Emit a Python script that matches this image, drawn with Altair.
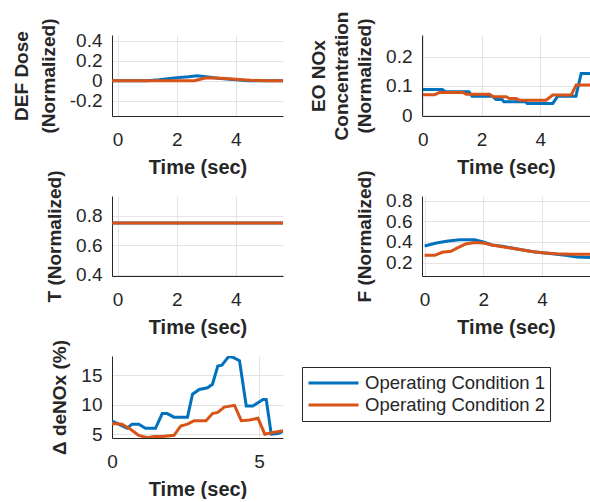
import altair as alt
import pandas as pd

FONT = "Liberation Sans"
series = ["Operating Condition 1", "Operating Condition 2"]
colors = ["#0072BD", "#D95319"]

# DEF Dose (Normalized)
def_t1 = [-0.18, 1.0, 1.4, 2.0, 2.4, 2.7, 3.0, 3.4, 4.0, 4.4, 5.6]
def_v1 = [0, 0, 0.01, 0.03, 0.04, 0.05, 0.04, 0.025, 0.01, 0, 0]
def_t2 = [-0.18, 2.6, 3.0, 3.5, 4.0, 4.5, 5.0, 5.6]
def_v2 = [0, 0, 0.03, 0.025, 0.015, 0.005, 0, 0]

# EO NOx Concentration (Normalized)
eo_t1 = [0, 0.66, 0.77, 1.57, 1.68, 2.36, 2.5, 2.7, 2.76, 3.5, 3.56, 4.43, 4.6, 5.22, 5.4, 5.7]
eo_v1 = [0.088, 0.088, 0.08, 0.08, 0.065, 0.065, 0.054, 0.054, 0.046, 0.046, 0.04, 0.04, 0.065, 0.065, 0.143, 0.143]
eo_t2 = [0, 0.4, 0.57, 1.36, 1.48, 2.27, 2.39, 2.84, 2.95, 3.18, 3.3, 4.2, 4.43, 5.06, 5.23, 5.7]
eo_v2 = [0.07, 0.07, 0.078, 0.078, 0.072, 0.072, 0.063, 0.063, 0.057, 0.057, 0.051, 0.051, 0.069, 0.069, 0.103, 0.103]

# T (Normalized)
t_t1 = [-0.18, 5.6]
t_v1 = [0.75, 0.75]
t_t2 = [-0.18, 5.6]
t_v2 = [0.75, 0.75]

# F (Normalized)
f_t1 = [0, 0.4, 0.8, 1.2, 1.7, 2.0, 2.3, 2.7, 3.2, 3.7, 4.2, 4.8, 5.2, 5.64]
f_v1 = [0.36, 0.39, 0.41, 0.42, 0.42, 0.40, 0.37, 0.355, 0.33, 0.305, 0.29, 0.27, 0.255, 0.25]
f_t2 = [0, 0.35, 0.6, 0.9, 1.1, 1.4, 1.7, 2.0, 2.3, 2.6, 3.2, 3.6, 4.0, 4.5, 5.0, 5.64]
f_v2 = [0.27, 0.27, 0.30, 0.31, 0.34, 0.38, 0.395, 0.39, 0.37, 0.355, 0.33, 0.31, 0.295, 0.285, 0.28, 0.28]

# delta deNOx (%)
dn_t1 = [0, 0.23, 0.51, 0.68, 0.91, 1.14, 1.48, 1.71, 1.88, 2.11, 2.34, 2.57, 2.74, 2.97, 3.25, 3.42,
         3.6, 3.74, 3.97, 4.11, 4.34, 4.57, 4.79, 5.14, 5.25, 5.42, 5.65, 5.82]
dn_v1 = [7.2, 6.7, 6.0, 6.7, 6.7, 6.0, 6.0, 8.5, 8.5, 7.9, 7.9, 7.9, 11.8, 12.6, 12.9, 13.5,
         16.6, 16.75, 18.2, 18.1, 17.5, 9.8, 9.8, 10.9, 10.9, 5.0, 5.1, 5.5]
dn_t2 = [0, 0.34, 0.63, 0.91, 1.2, 1.43, 1.71, 2.11, 2.34, 2.57, 2.8, 3.2, 3.42, 3.6, 3.82, 4.17,
         4.4, 4.68, 4.97, 5.2, 5.48, 5.82]
dn_v2 = [6.8, 6.7, 5.85, 4.8, 4.4, 4.6, 4.6, 4.8, 6.4, 6.7, 7.3, 7.3, 8.5, 8.7, 9.6, 9.9,
         7.3, 7.4, 7.7, 5.0, 5.3, 5.6]


def frame(t1, v1, t2, v2):
    a = pd.DataFrame({"t": t1, "v": v1, "s": series[0]})
    b = pd.DataFrame({"t": t2, "v": v2, "s": series[1]})
    return pd.concat([a, b], ignore_index=True)


color = alt.Color(
    "s:N",
    scale=alt.Scale(domain=series, range=colors),
    title=None,
    legend=alt.Legend(
        orient="none", legendX=190, legendY=332,
        strokeColor="#262626", fillColor="white", padding=5,
        symbolType="stroke", symbolSize=2500, symbolStrokeWidth=3,
        labelFontSize=18.5, labelFont=FONT, labelColor="#262626", labelLimit=400,
        clipHeight=22, rowPadding=0, labelOffset=5, cornerRadius=0,
    ),
)

LABEL_EXPR = "replace(datum.label, '\u2212', '-')"


def panel(df, xdom, xticks, ydom, yticks, ytitle, w, h, line_h=23):
    return alt.Chart(df).mark_line(strokeWidth=3, clip=True).encode(
        x=alt.X("t:Q", scale=alt.Scale(domain=xdom, nice=False, zero=False),
                axis=alt.Axis(values=xticks, title="Time (sec)", format=".2~f", labelExpr=LABEL_EXPR)),
        y=alt.Y("v:Q", scale=alt.Scale(domain=ydom, nice=False, zero=False),
                axis=alt.Axis(values=yticks, title=ytitle, format=".2~f", labelExpr=LABEL_EXPR,
                              titleLineHeight=line_h)),
        color=color,
    ).properties(width=w, height=h)


p1 = panel(frame(def_t1, def_v1, def_t2, def_v2), [-0.19, 5.6], [0, 2, 4],
           [-0.353, 0.457], [-0.2, 0, 0.2, 0.4], ["DEF Dose", "(Normalized)"], 171, 81, line_h=27)
p2 = panel(frame(eo_t1, eo_v1, eo_t2, eo_v2), [-0.03, 5.7], [0, 2, 4],
           [-0.003, 0.275], [0, 0.1, 0.2], ["EO NOx", "Concentration", "(Normalized)"], 168, 81)
p3 = panel(frame(t_t1, t_v1, t_t2, t_v2), [-0.19, 5.6], [0, 2, 4],
           [0.393, 0.933], [0.4, 0.6, 0.8], "T (Normalized)", 171, 80)
p4 = panel(frame(f_t1, f_v1, f_t2, f_v2), [-0.09, 5.64], [0, 2, 4],
           [0.07, 0.845], [0.2, 0.4, 0.6, 0.8], "F (Normalized)", 168, 80)
p5 = panel(frame(dn_t1, dn_v1, dn_t2, dn_v2), [0, 5.82], [0, 5],
           [4.35, 18.3], [5, 10, 15], "\u0394 deNOx (%)", 171, 82)

chart = alt.concat(
    p1, p2, p3, p4, p5, columns=2, bounds="flush",
    spacing={"row": 80, "column": 139},
).properties(
    padding={"left": 12, "top": 11, "right": 0, "bottom": 0},
    background="white",
).configure_axis(
    labelFont=FONT, labelFontSize=19, labelColor="#262626",
    titleFont=FONT, titleFontWeight="bold", titleColor="#262626",
    domainColor="#262626", domainWidth=1, gridColor="#e3e3e3", grid=True,
    ticks=False, labelFlush=False, labelOverlap=False,
).configure_axisX(labelPadding=14, titlePadding=8, titleFontSize=20).configure_axisY(
    labelPadding=10, titlePadding=11, titleFontSize=19
).configure_view(stroke=None)

chart.save("out.html", embed_options={"renderer": "svg", "actions": False})
